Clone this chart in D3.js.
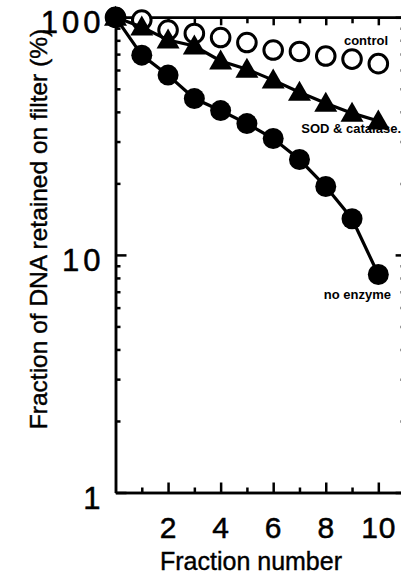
<!DOCTYPE html>
<html>
<head>
<meta charset="utf-8">
<script src="https://cdn.jsdelivr.net/npm/d3@7/dist/d3.min.js"></script>
<style>
    body { margin: 0; background: #fff; }
    svg { display: block; }
    .axis path, .axis line { stroke: #000; stroke-width: 2.5; }
    .tick text { font-family: "Liberation Sans", Arial, sans-serif; fill: #000; stroke: #000; stroke-width: 0.5; }
    .title { stroke: #000; stroke-width: 0.4; }
</style>
</head>
<body>
<div id="chart"></div>
<script>
// fraction number on x, percent retained on y (log)
var fractions = [0, 1, 2, 3, 4, 5, 6, 7, 8, 9, 10];
var controlVals = [100, 97.4, 88.4, 85.5, 82.2, 78.3, 72.8, 71.8, 68.7, 66.7, 63.8];
var sodVals = [100, 91, 80.2, 75.7, 65.5, 60.5, 54.4, 48.4, 43.5, 39.5, 36.6];
var noEnzymeVals = [100, 69.3, 57.1, 45.5, 40.5, 35.7, 30.9, 25.2, 19.4, 14.2, 8.27];
var seriesLabels = ["control", "SOD & catalase.", "no enzyme"];
var xMajorTicks = [2, 4, 6, 8, 10];
var xMinorTicks = [1, 3, 5, 7, 9];
var yMajorTicks = [1, 10, 100];
var yMinorTicks = [2, 3, 4, 5, 6, 7, 8, 9, 20, 30, 40, 50, 60, 70, 80, 90];

var width = 401, height = 575;
var font = '"Liberation Sans", Arial, sans-serif';

var svg = d3.select("#chart")
    .append("svg")
        .attr("width", width)
        .attr("height", height)

var x = d3.scaleLinear()
    .domain([0, 11])
    .range([115.5, 404.6])

var y = d3.scaleLog()
    .domain([1, 100])
    .range([492.5, 17.3])

var top0 = y(100), bottom0 = y(1), left0 = x(0), right0 = x(11);

// bottom axis: majors with labels, minors without
svg.append("g")
    .attr("class", "axis")
    .attr("transform", "translate(0," + bottom0 + ")")
    .call(d3.axisBottom(x).tickValues(xMajorTicks).tickSizeInner(-10).tickSizeOuter(0).tickPadding(25))
    .call(function(g){
        g.selectAll("text").attr("font-size", 30).attr("font-family", font)
            .attr("dy", "0.69em").attr("letter-spacing", 1)
    })

svg.append("g")
    .attr("class", "axis")
    .attr("transform", "translate(0," + bottom0 + ")")
    .call(d3.axisBottom(x).tickValues(xMinorTicks).tickSizeInner(-5).tickSizeOuter(0).tickFormat(""))

// top axis
svg.append("g")
    .attr("class", "axis")
    .attr("transform", "translate(0," + top0 + ")")
    .call(d3.axisTop(x).tickValues(xMajorTicks).tickSizeInner(-8).tickSizeOuter(0).tickFormat(""))

svg.append("g")
    .attr("class", "axis")
    .attr("transform", "translate(0," + top0 + ")")
    .call(d3.axisTop(x).tickValues(xMinorTicks).tickSizeInner(-6).tickSizeOuter(0).tickFormat(""))

// left axis
svg.append("g")
    .attr("class", "axis")
    .attr("transform", "translate(" + left0 + ",0)")
    .call(d3.axisLeft(y).tickValues(yMajorTicks).tickSizeInner(-11).tickSizeOuter(0).tickPadding(11)
        .tickFormat(d3.format("d")))
    .call(function(g){
        g.selectAll("text").attr("font-size", 31).attr("font-family", font)
            .attr("dy", "0.5em").attr("letter-spacing", 4)
    })

svg.append("g")
    .attr("class", "axis")
    .attr("transform", "translate(" + left0 + ",0)")
    .call(d3.axisLeft(y).tickValues(yMinorTicks).tickSizeInner(-5).tickSizeOuter(0).tickFormat(""))

// right axis (mostly off the page)
svg.append("g")
    .attr("class", "axis")
    .attr("transform", "translate(" + right0 + ",0)")
    .call(d3.axisRight(y).tickValues(yMajorTicks).tickSizeInner(-9).tickSizeOuter(0).tickFormat(""))

svg.append("g")
    .attr("class", "axis")
    .attr("transform", "translate(" + right0 + ",0)")
    .call(d3.axisRight(y).tickValues(yMinorTicks).tickSizeInner(-4).tickSizeOuter(0).tickFormat(""))

// axis titles
svg.append("text")
    .attr("class", "title")
    .attr("x", 251)
    .attr("y", 570)
    .attr("text-anchor", "middle")
    .attr("font-family", font)
    .attr("font-size", 25)
    .text("Fraction number")

svg.append("text")
    .attr("class", "title")
    .attr("transform", "translate(47," + 229 + ") rotate(-90)")
    .attr("text-anchor", "middle")
    .attr("font-family", font)
    .attr("font-size", 24.5)
    .text("Fraction of DNA retained on filter (%)")

var line = d3.line()
    .x(function(d){ return x(d[0]); })
    .y(function(d){ return y(d[1]); })

function pairs(vals){
    return fractions.map(function(f, i){ return [f, vals[i]]; })
}

// control: open circles, no line
svg.append("g")
    .selectAll("circle")
    .data(pairs(controlVals))
    .enter()
        .append("circle")
        .attr("cx", function(d){ return x(d[0]); })
        .attr("cy", function(d){ return y(d[1]); })
        .attr("r", 9.3)
        .attr("fill", "#fff")
        .attr("stroke", "#000")
        .attr("stroke-width", 3)

// SOD & catalase: triangles
svg.append("path")
    .datum(pairs(sodVals))
    .attr("d", line)
    .attr("fill", "none")
    .attr("stroke", "#000")
    .attr("stroke-width", 3.2)

svg.append("g")
    .selectAll("path")
    .data(pairs(sodVals))
    .enter()
        .append("path")
        .attr("transform", function(d){ return "translate(" + x(d[0]) + "," + y(d[1]) + ")"; })
        .attr("d", "M0,-11.5L11.5,8.5L-11.5,8.5Z")
        .attr("fill", "#000")

// no enzyme: filled circles
svg.append("path")
    .datum(pairs(noEnzymeVals))
    .attr("d", line)
    .attr("fill", "none")
    .attr("stroke", "#000")
    .attr("stroke-width", 3.2)

svg.append("g")
    .selectAll("circle")
    .data(pairs(noEnzymeVals))
    .enter()
        .append("circle")
        .attr("cx", function(d){ return x(d[0]); })
        .attr("cy", function(d){ return y(d[1]); })
        .attr("r", 10.5)
        .attr("fill", "#000")

// series labels
var labelPos = [[388, 45], [401, 133], [391, 299]];
svg.append("g")
    .selectAll("text")
    .data(seriesLabels)
    .enter()
        .append("text")
        .attr("x", function(d, i){ return labelPos[i][0]; })
        .attr("y", function(d, i){ return labelPos[i][1]; })
        .attr("text-anchor", "end")
        .attr("font-family", font)
        .attr("font-weight", "bold")
        .attr("font-size", 13)
        .text(function(d){ return d; })
</script>
</body>
</html>
